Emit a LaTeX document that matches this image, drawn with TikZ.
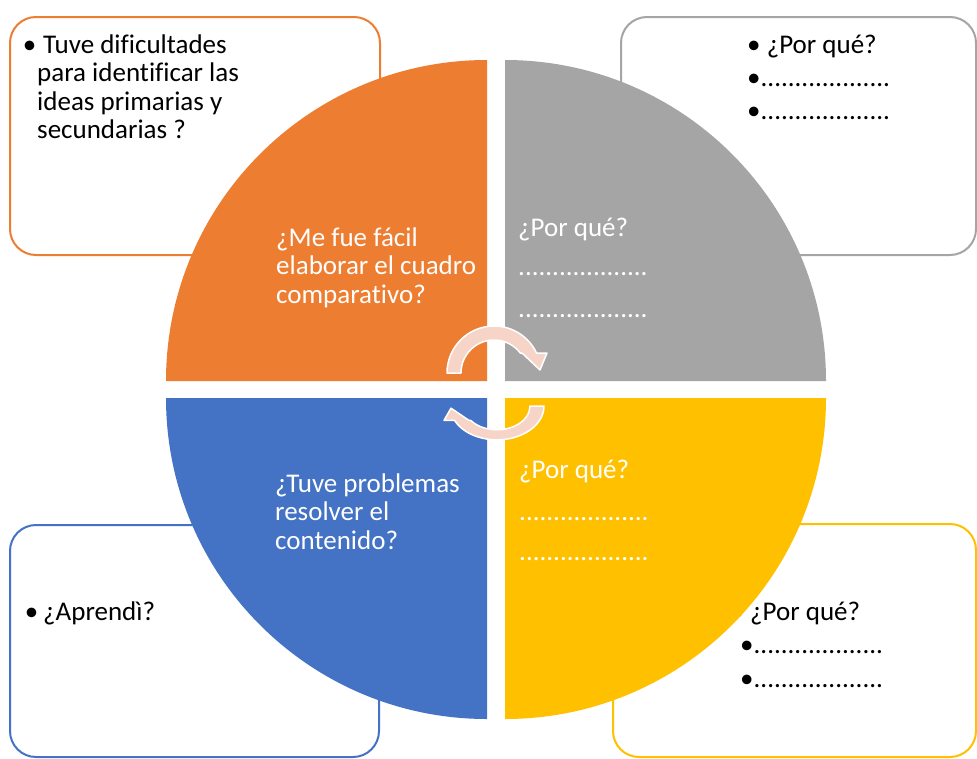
\documentclass[tikz,border=0pt]{standalone}
\usepackage{fontspec}
\setmainfont[Ligatures=NoCommon]{Carlito}

\definecolor{quadorange}{RGB}{237,125,49}
\definecolor{quadgray}{RGB}{165,165,165}
\definecolor{quadyellow}{RGB}{255,192,0}
\definecolor{quadblue}{RGB}{68,114,196}
\definecolor{arrowpink}{RGB}{247,212,200}

\newcommand{\dotline}{...................}

\begin{document}
\begin{tikzpicture}[x=1pt,y=-1pt,
    % Define the style for the boxes around the circle
    note box/.style={draw, rounded corners=26pt, line width=2pt, fill=white, inner sep=0pt},
    % Define the style for the texts (anchored at the baseline of the last line)
    note text/.style={anchor=base west, inner sep=0pt, align=left, text=black,
        font=\fontsize{27}{28.5}\selectfont},
    quarter text/.style={note text, text=white},
    % Define the style for the two turning arrows
    turn arrow/.style={fill=arrowpink, draw=white, line width=1.5pt, line join=round}
]

% Page size
\path[use as bounding box, fill=white] (0,0) rectangle (977,758);

% Determine the size of the circle
\def\qradius{321}

% Boxes behind the circle
\node[note box, draw=quadorange, minimum width=370pt, minimum height=238pt] (box-tl) at (195,136) {};
\node[note box, draw=quadgray, minimum width=355pt, minimum height=238pt] (box-tr) at (798.5,136) {};
\node[note box, draw=quadblue, minimum width=369pt, minimum height=232pt] (box-bl) at (194.5,641) {};
\node[note box, draw=quadyellow, minimum width=363pt, minimum height=233pt] (box-br) at (794.5,640.5) {};

% Texts in the boxes
\node[note text] (text-tl) at (37,138.5) {\llap{•\hspace{1pt}}\hspace{6pt}Tuve dificultades\\para identificar las\\ideas primarias y\\secundarias ?};
\node[note text] (text-tr) at (747,119) {• ¿Por qué?\\[4.5pt]•\dotline\\[4.5pt]•\dotline};
\node[note text] (text-bl) at (43,620) {\llap{•\hspace{5pt}}¿Aprendì?};
\node[note text] (text-br) at (750,620) {\llap{•\hspace{6pt}}¿Por qué?};
\node[note text] (dots-br) at (740,687) {•\dotline\\[5.5pt]•\dotline};

% Four quarters of the circle
\foreach \col/\cx/\cy/\from in {quadorange/487/381/180, quadgray/505/381/270,
                                quadyellow/505/398/0, quadblue/487/398/90}
    \fill[\col] (\cx,\cy) -- ++(\from:\qradius)
        arc[start angle=\from, end angle=\from+90, radius=\qradius] -- cycle;

% Texts in the quarters
\node[quarter text] (q-orange) at (276,303) {¿Me fue fácil\\elaborar el cuadro\\comparativo?};
\node[quarter text] (q-gray) at (518,317) {¿Por qué?\\[10.5pt]\dotline\\[13.5pt]\dotline};
\node[quarter text] (q-yellow) at (519,560) {¿Por qué?\\[13.5pt]\dotline\\[11.5pt]\dotline};
\node[quarter text] (q-blue) at (275,549) {¿Tuve problemas\\resolver el\\contenido?};

% Turning arrows in the middle
\begin{scope}[shift={(494,373)}, yscale=-1]
    \filldraw[turn arrow] (180:47) arc[start angle=180, end angle=25, radius=47]
        -- (53,20) -- (46,3) -- (28,20) -- (37:33)
        arc[start angle=37, end angle=180, radius=33] -- cycle;
\end{scope}
\begin{scope}[shift={(497,406)}, xscale=-1, yscale=0.72]
    \filldraw[turn arrow] (180:47) arc[start angle=180, end angle=25, radius=47]
        -- (53,20) -- (46,3) -- (28,20) -- (37:33)
        arc[start angle=37, end angle=180, radius=33] -- cycle;
\end{scope}

\end{tikzpicture}
\end{document}
